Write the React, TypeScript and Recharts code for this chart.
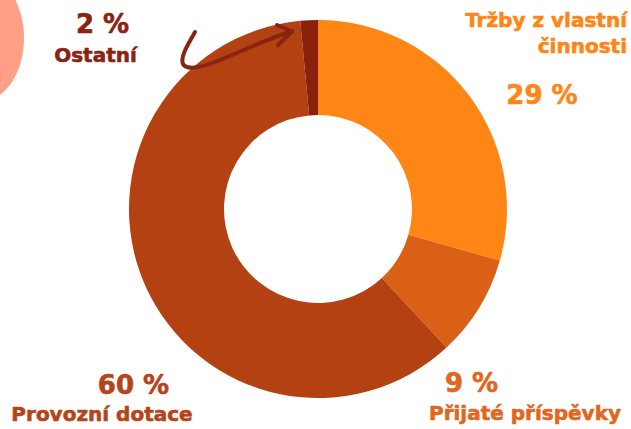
import React from "react";
import { PieChart, Pie, Cell } from "recharts";

const categories = ["Tržby z vlastní činnosti", "Přijaté příspěvky", "Provozní dotace", "Ostatní"];
const values = [29.4, 8.7, 60.4, 1.5];
const percentLabels = ["29 %", "9 %", "60 %", "2 %"];
const sliceColors = ["#FF8514", "#DA6015", "#B34112", "#8A210D"];
const labelColors = ["#FF8514", "#E2661B", "#B5441A", "#8B2311"];

const data = categories.map((name, i) => ({ name, value: values[i] }));

const FONT = "'DejaVu Sans', sans-serif";

function Label({ x, y, size, color, anchor = "middle", children }: any) {
  return (
    <text
      x={x}
      y={y}
      textAnchor={anchor}
      fontSize={size}
      fill={color}
      stroke={color}
      strokeWidth={0.6}
      strokeLinejoin="round"
    >
      {children}
    </text>
  );
}

export default function App() {
  return (
    <div style={{ position: "absolute", left: 0, top: 0, width: 631, height: 429, background: "#ffffff", overflow: "hidden" }}>
      <svg width={631} height={429} style={{ position: "absolute", left: 0, top: 0 }}>
        <ellipse cx={-20} cy={38} rx={44} ry={64} fill="#FF9F85" />
      </svg>
      <div style={{ position: "absolute", left: 0, top: 0 }}>
        <PieChart width={631} height={429} margin={{ top: 0, right: 0, bottom: 0, left: 0 }}>
          <Pie
            data={data}
            dataKey="value"
            nameKey="name"
            cx={318}
            cy={209}
            innerRadius={94}
            outerRadius={189}
            startAngle={90}
            endAngle={-270}
            stroke="none"
            isAnimationActive={false}
          >
            {data.map((d, i) => (
              <Cell key={d.name} fill={sliceColors[i]} />
            ))}
          </Pie>
        </PieChart>
      </div>
      <svg width={631} height={429} style={{ position: "absolute", left: 0, top: 0 }} fontFamily={FONT} fontWeight={700}>
        {/* arrow */}
        <path d="M195,32 C188,44 180,57 183,64 C186,70 200,68 215,62 C240,52 265,40 292,31" fill="none" stroke="#8B2311" strokeWidth={4} strokeLinecap="round" />
        <path d="M277,25 L292,31.5 L278,45" fill="none" stroke="#8B2311" strokeWidth={4} strokeLinecap="round" strokeLinejoin="round" />

        <Label x={627} y={27} size={20} color={labelColors[0]} anchor="end">Tržby z vlastní</Label>
        <Label x={627} y={53} size={20} color={labelColors[0]} anchor="end">činnosti</Label>
        <Label x={542} y={104} size={26} color={labelColors[0]}>{percentLabels[0]}</Label>

        <Label x={471.5} y={392} size={26} color={labelColors[1]}>{percentLabels[1]}</Label>
        <Label x={525} y={420} size={20} color={labelColors[1]}>{categories[1]}</Label>

        <Label x={133.5} y={394} size={26} color={labelColors[2]}>{percentLabels[2]}</Label>
        <Label x={102} y={421} size={20} color={labelColors[2]}>{categories[2]}</Label>

        <Label x={102.5} y={33} size={26} color={labelColors[3]}>{percentLabels[3]}</Label>
        <Label x={95.5} y={62} size={20} color={labelColors[3]}>{categories[3]}</Label>
      </svg>
    </div>
  );
}
